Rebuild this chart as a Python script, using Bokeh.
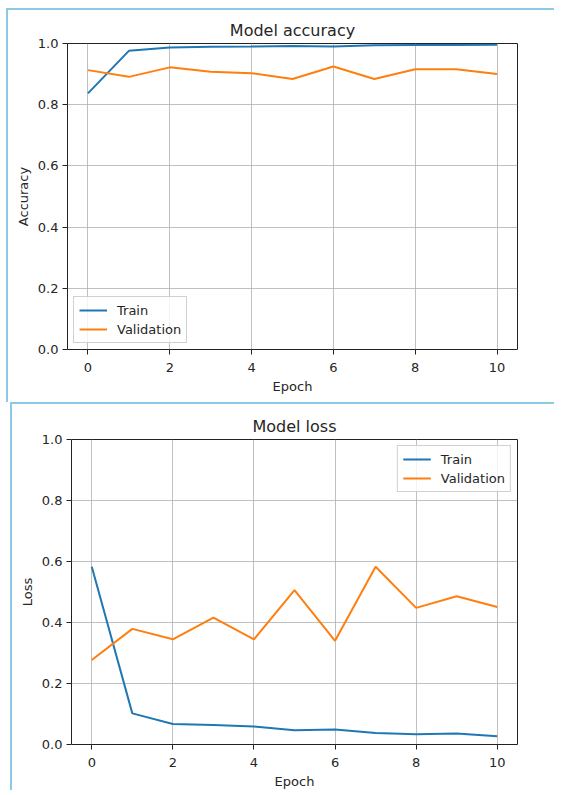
from bokeh.plotting import figure
from bokeh.layouts import column
from bokeh.models import Legend, LegendItem, FixedTicker, Range1d, NumeralTickFormatter
from bokeh.embed import file_html
from bokeh.resources import INLINE

epochs = [0, 1, 2, 3, 4, 5, 6, 7, 8, 9, 10]
train_acc = [0.837, 0.976, 0.987, 0.989, 0.990, 0.992, 0.990, 0.994, 0.995, 0.995, 0.996]
val_acc = [0.913, 0.891, 0.922, 0.908, 0.903, 0.884, 0.925, 0.884, 0.916, 0.916, 0.900]
train_loss = [0.583, 0.102, 0.067, 0.064, 0.059, 0.047, 0.049, 0.038, 0.034, 0.036, 0.027]
val_loss = [0.277, 0.379, 0.345, 0.416, 0.345, 0.506, 0.340, 0.583, 0.448, 0.486, 0.451]
x_ticks = [0, 2, 4, 6, 8, 10]
y_ticks = [0.0, 0.2, 0.4, 0.6, 0.8, 1.0]

BLUE = "#1f77b4"
ORANGE = "#ff7f0e"
FONT = "DejaVu Sans"
TXT = "#262626"
EDGE = "#8cc9e6"


def make_plot(title, ylabel, tr, va, loc, w, h, mb_top, mb_bottom, mb_left, mb_right, margin):
    p = figure(width=w, height=h, output_backend="svg", toolbar_location=None,
               x_range=Range1d(-0.5, 10.5), y_range=Range1d(0, 1),
               min_border_left=mb_left, min_border_right=mb_right,
               min_border_top=mb_top, min_border_bottom=mb_bottom)
    p.title.text = title
    p.title.align = "center"
    p.title.text_font = FONT
    p.title.text_font_size = "16px"
    p.title.text_font_style = "normal"
    p.title.text_color = TXT
    p.title.standoff = 8
    p.outline_line_color = "#222222"
    p.outline_line_width = 1
    p.outline_line_alpha = 1
    for ax in (p.xaxis[0], p.yaxis[0]):
        ax.axis_label_text_font = FONT
        ax.axis_label_text_font_size = "13px"
        ax.axis_label_text_font_style = "normal"
        ax.axis_label_text_color = TXT
        ax.major_label_text_font = FONT
        ax.major_label_text_font_size = "13px"
        ax.major_label_text_color = TXT
        ax.axis_line_color = None
        ax.major_tick_line_color = "#222222"
        ax.major_tick_out = 5
        ax.major_tick_in = 0
        ax.minor_tick_line_color = None
        ax.major_label_standoff = 4
        ax.axis_label_standoff = 4
    p.xaxis.major_label_standoff = 8
    p.xaxis.axis_label = "Epoch"
    p.yaxis.axis_label = ylabel
    p.xaxis.ticker = FixedTicker(ticks=x_ticks)
    p.yaxis.ticker = FixedTicker(ticks=y_ticks)
    p.yaxis.formatter = NumeralTickFormatter(format="0.0")
    p.grid.grid_line_color = "#b0b0b0"
    p.grid.grid_line_alpha = 0.8
    p.grid.grid_line_width = 1
    r1 = p.line(epochs, tr, line_color=BLUE, line_width=2)
    r2 = p.line(epochs, va, line_color=ORANGE, line_width=2)
    leg = Legend(items=[LegendItem(label="Train", renderers=[r1]),
                        LegendItem(label="Validation", renderers=[r2])],
                 location=loc, margin=6, padding=5, spacing=3,
                 glyph_width=28, glyph_height=16, label_standoff=10,
                 label_text_font=FONT, label_text_font_size="13px",
                 label_text_color=TXT, label_height=16,
                 border_line_color="#d0d0d0", border_line_alpha=1,
                 background_fill_alpha=0.8)
    p.add_layout(leg)
    p.styles = {"border-left": f"2px solid {EDGE}", "border-top": f"2px solid {EDGE}"}
    p.margin = margin
    return p


p1 = make_plot("Model accuracy", "Accuracy", train_acc, val_acc, "bottom_left",
               548, 394, 33, 55, 59, 39, (8, 0, 0, 6))
p2 = make_plot("Model loss", "Loss", train_loss, val_loss, "top_right",
               544, 388, 35, 48, 55, 39, (0, 0, 0, 10))

layout = column(p1, p2)
open("out.html", "w").write(file_html(layout, INLINE))
